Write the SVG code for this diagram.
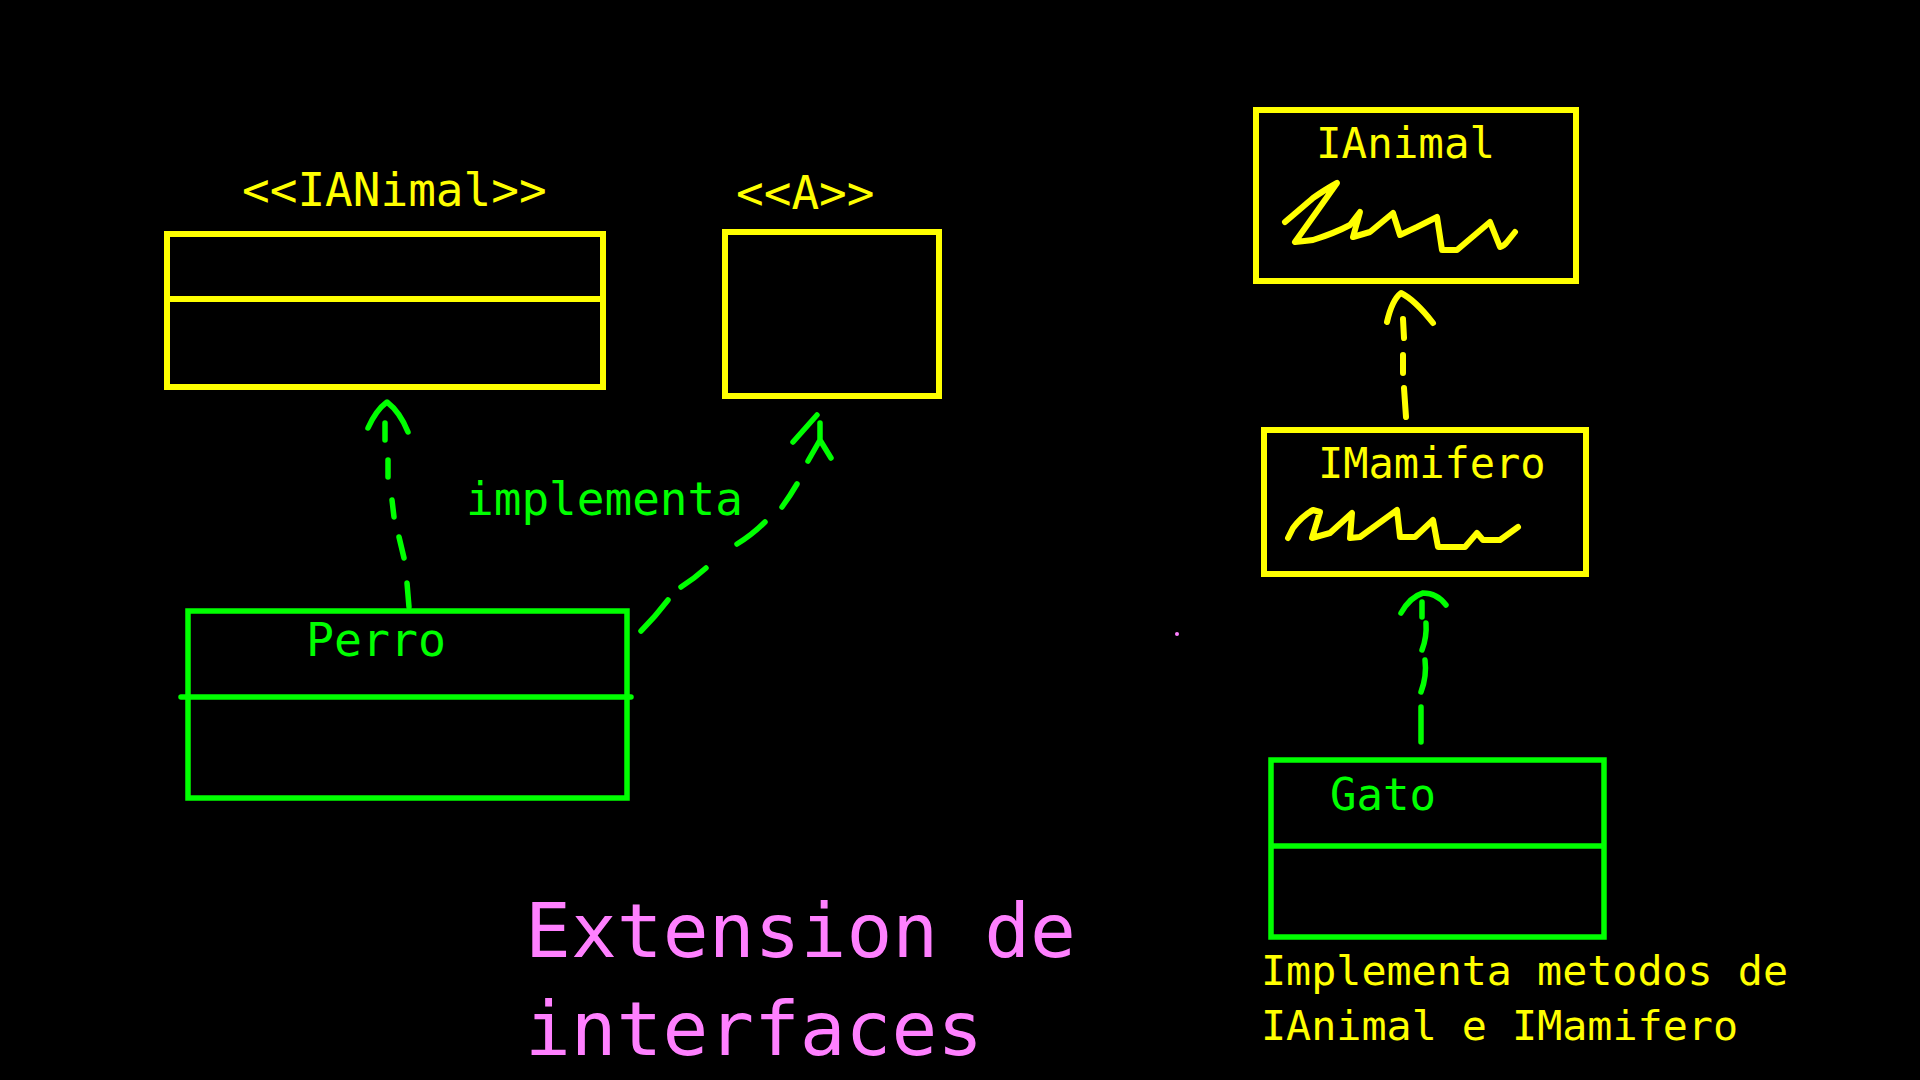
<svg xmlns="http://www.w3.org/2000/svg" width="1920" height="1080" viewBox="0 0 1920 1080">
<style>
.bg{fill:#000}
.y{fill:none;stroke:#ffff00;stroke-width:6}
.g{fill:none;stroke:#00ff00;stroke-width:5.5}
.yl{fill:none;stroke:#ffff00;stroke-width:6;stroke-linecap:round;stroke-linejoin:round}
.gl{fill:none;stroke:#00ff00;stroke-width:5.5;stroke-linecap:round;stroke-linejoin:round}
text{font-family:"DejaVu Sans Mono","Liberation Mono",monospace}
.ty{fill:#ffff00}
.tg{fill:#00ff00}
.tp{fill:#ff80ff}
</style>
<rect class="bg" x="0" y="0" width="1920" height="1080"/>

<g id="ianimal-uml">
<text class="ty" x="242" y="206" font-size="46">&lt;&lt;IANimal&gt;&gt;</text>
<rect class="y" x="167" y="234" width="436" height="153"/>
<line class="y" x1="167" y1="299" x2="603" y2="299"/>
</g>

<g id="a-uml">
<text class="ty" x="736" y="209" font-size="46">&lt;&lt;A&gt;&gt;</text>
<rect class="y" x="725" y="232" width="214" height="164"/>
</g>

<g id="perro">
<rect class="g" x="188" y="611" width="439" height="187"/>
<line class="gl" x1="181" y1="697" x2="631" y2="697"/>
<text class="tg" x="306" y="656" font-size="46.5">Perro</text>
</g>

<g id="ianimal">
<rect class="y" x="1256" y="110" width="320" height="171"/>
<text class="ty" x="1316" y="158" font-size="42.5">IAnimal</text>
<path class="yl" d="M1285,222 Q1305,205 1313,198 Q1326,189 1337,183 Q1318,210 1295,242 Q1305,241 1313,240 Q1335,233 1350,225 L1360,212 L1353,237 L1370,232 L1393,213 L1400,235 L1417,227 L1437,217 L1442,250 L1457,250 L1490,222 L1500,247 Q1504,246 1507,242 L1515,232"/>
</g>

<g id="imamifero">
<rect class="y" x="1264" y="430" width="322" height="144"/>
<text class="ty" x="1318" y="478" font-size="42">IMamifero</text>
<path class="yl" d="M1288,538 L1293,528 Q1302,516 1313,510 L1320,512 L1312,538 L1330,533 L1352,513 L1350,538 L1360,537 L1397,510 L1400,537 L1415,537 L1433,520 L1438,547 L1465,547 L1477,533 L1483,540 L1500,540 L1518,527"/>
</g>

<g id="gato">
<rect class="g" x="1271" y="760" width="333" height="177"/>
<line class="g" x1="1271" y1="846" x2="1604" y2="846"/>
<text class="tg" x="1330" y="810" font-size="44">Gato</text>
</g>

<g id="notes">
<text class="ty" x="1261" y="985" font-size="40" textLength="527" lengthAdjust="spacingAndGlyphs">Implementa metodos de</text>
<text class="ty" x="1261" y="1040" font-size="40" textLength="477" lengthAdjust="spacingAndGlyphs">IAnimal e IMamifero</text>
<text class="tp" x="525" y="957" font-size="75" textLength="551" lengthAdjust="spacingAndGlyphs">Extension de</text>
<text class="tp" x="525" y="1055" font-size="75" textLength="458" lengthAdjust="spacingAndGlyphs">interfaces</text>
<text class="tg" x="466" y="515" font-size="46">implementa</text>
<circle cx="1177" cy="634" r="2" fill="#ff80ff"/>
</g>

<g id="connectors">
<!-- Perro -> IANimal -->
<path class="gl" d="M409,607 L407,583 M404,558 L399,537 M394,517 L392,500 M388,477 L388,460 M385,440 L385,423"/>
<path class="gl" d="M368,428 Q376,410 387,402 Q400,412 408,432"/>
<!-- Perro -> A -->
<path class="gl" d="M641,631 Q655,617 668,600 M681,587 Q695,578 706,568 M737,544 Q752,535 765,522 M782,507 Q790,496 797,484"/>
<path class="gl" d="M793,442 L817,415 M820,423 L820,440 L808,461 M820,440 L831,458"/>
<!-- IMamifero -> IAnimal -->
<path class="yl" d="M1403,319 L1404,338 M1403,355 L1403,373 M1404,388 L1406,417"/>
<path class="yl" d="M1387,322 Q1392,300 1401,293 Q1415,300 1433,323"/>
<!-- Gato -> IMamifero -->
<path class="gl" d="M1421,742 L1421,707 M1421,692 Q1427,676 1425,660 M1422,650 Q1427,637 1426,623 M1422,617 L1422,602"/>
<path class="gl" d="M1401,613 Q1410,597 1423,593 Q1437,593 1446,605"/>
</g>
</svg>
